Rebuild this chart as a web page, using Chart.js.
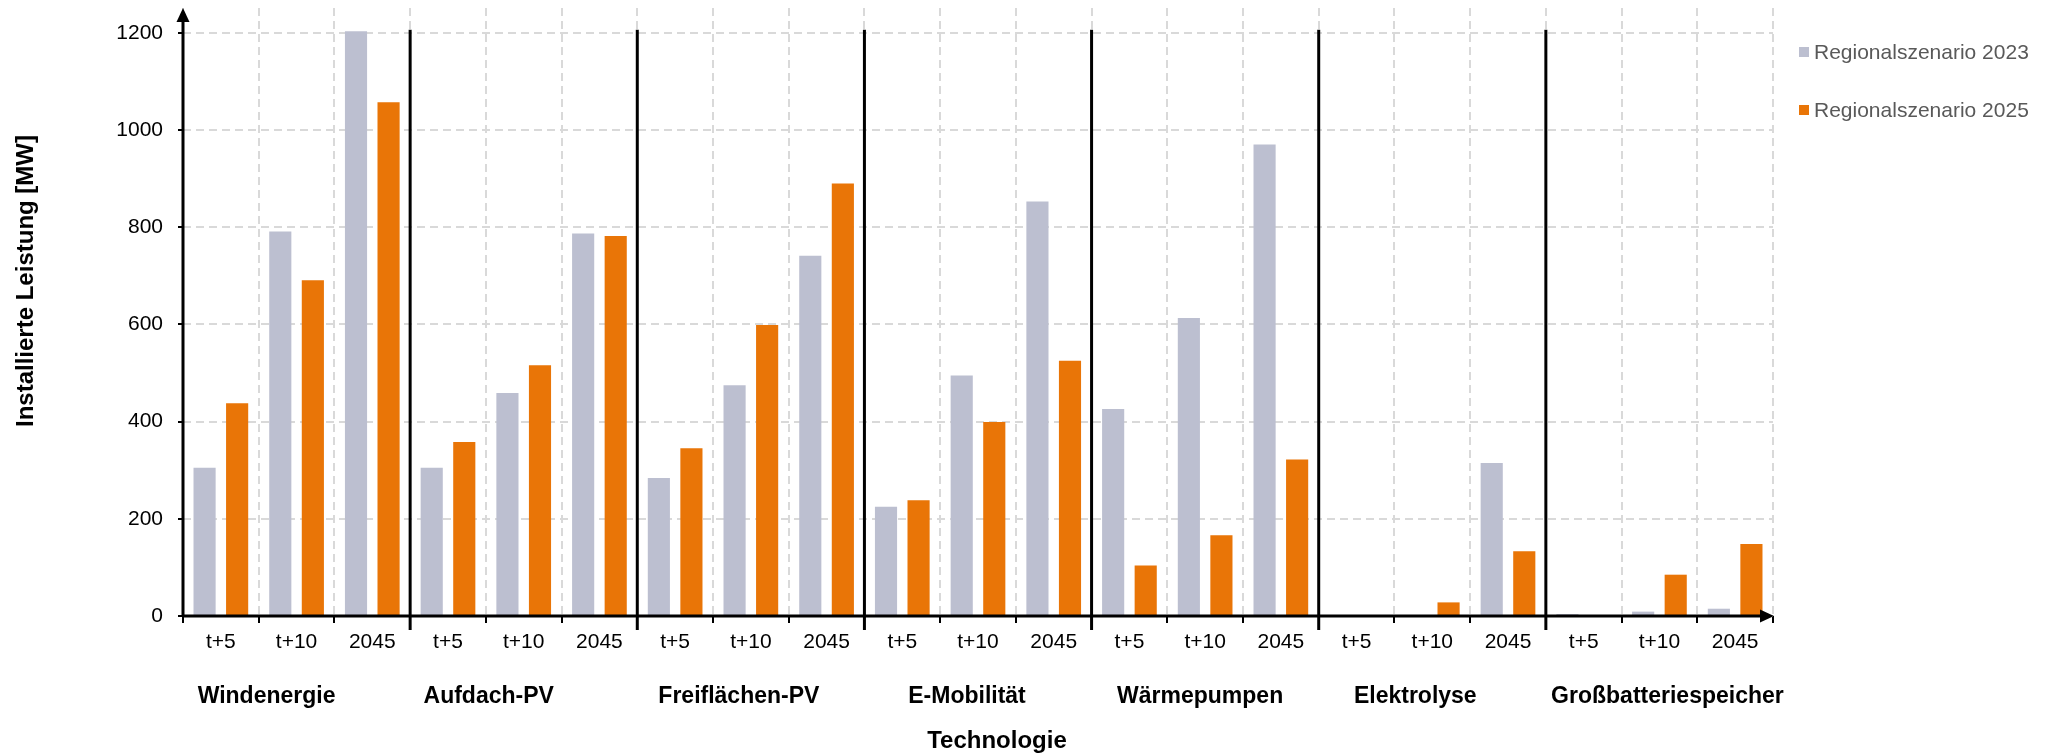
<!DOCTYPE html>
<html>
<head>
<meta charset="utf-8">
<script src="https://cdn.jsdelivr.net/npm/chart.js@4/dist/chart.umd.min.js"></script>
<style>
html,body{margin:0;padding:0;background:#fff;}
#wrap{width:2053px;height:755px;position:relative;}
</style>
</head>
<body>
<div id="wrap"><canvas id="c" width="2053" height="755"></canvas></div>
<script>
// ---- data ----
const groups = ['Windenergie', 'Aufdach-PV', 'Freiflächen-PV', 'E-Mobilität', 'Wärmepumpen', 'Elektrolyse', 'Großbatteriespeicher'];
const horizons = ['t+5', 't+10', '2045'];
const seriesNames = ['Regionalszenario 2023', 'Regionalszenario 2025'];
const values2023 = [305, 791, 1203, 305, 459, 787, 284, 475, 741, 225, 495, 853, 426, 613, 970, 0, 0, 315, 4, 9, 15];
const values2025 = [438, 691, 1057, 358, 516, 782, 345, 599, 890, 238, 399, 525, 104, 166, 322, 0, 28, 133, 0, 85, 148];
const yTicks = [0, 200, 400, 600, 800, 1000, 1200];
const xTitle = 'Technologie';
const yTitle = 'Installierte Leistung [MW]';

// ---- layout / styles ----
const FONT = "'Liberation Sans', Arial, Helvetica, sans-serif";
const colors = ['#bcbfd0', '#e97507'];
const groupLabelNudge = [-30, -35, -12, -11, -5, -17, 8];

const labels = [];
groups.forEach(() => horizons.forEach(h => labels.push(h)));

const decor = {
  id: 'decor',
  afterDraw(chart) {
    const ctx = chart.ctx;
    const xs = chart.scales.x, ys = chart.scales.y;
    const area = chart.chartArea;
    const base = ys.getPixelForValue(0);
    const top1200 = ys.getPixelForValue(yTicks[yTicks.length - 1]);
    const cw = xs.getPixelForValue(1) - xs.getPixelForValue(0);
    ctx.save();
    ctx.strokeStyle = '#000';
    ctx.fillStyle = '#000';
    ctx.lineWidth = 3;
    ctx.setLineDash([]);
    // group separators
    for (let g = 1; g < groups.length; g++) {
      const bx = xs.getPixelForValue(g * horizons.length) - cw / 2;
      ctx.beginPath();
      ctx.moveTo(bx, top1200 - 3);
      ctx.lineTo(bx, base + 14);
      ctx.stroke();
    }
    // y axis with arrow
    ctx.beginPath();
    ctx.moveTo(area.left, base + 1);
    ctx.lineTo(area.left, area.top + 12);
    ctx.stroke();
    ctx.beginPath();
    ctx.moveTo(area.left, area.top);
    ctx.lineTo(area.left - 6.5, area.top + 14);
    ctx.lineTo(area.left + 6.5, area.top + 14);
    ctx.closePath();
    ctx.fill();
    // x axis with arrow
    ctx.beginPath();
    ctx.moveTo(area.left - 1, base);
    ctx.lineTo(area.right - 12, base);
    ctx.stroke();
    ctx.beginPath();
    ctx.moveTo(area.right + 1, base);
    ctx.lineTo(area.right - 13, base - 6.5);
    ctx.lineTo(area.right - 13, base + 6.5);
    ctx.closePath();
    ctx.fill();

    // group labels
    ctx.font = 'bold 23px ' + FONT;
    ctx.textAlign = 'center';
    ctx.textBaseline = 'alphabetic';
    groups.forEach((g, i) => {
      const cx = xs.getPixelForValue(i * horizons.length + 1) + groupLabelNudge[i];
      ctx.fillText(g, cx, 703);
    });
    // axis titles
    ctx.font = 'bold 24px ' + FONT;
    ctx.fillText(xTitle, 997, 748);
    ctx.save();
    ctx.translate(33, 281);
    ctx.rotate(-Math.PI / 2);
    ctx.fillText(yTitle, 0, 0);
    ctx.restore();

    // legend
    ctx.font = '21px ' + FONT;
    ctx.textAlign = 'left';
    seriesNames.forEach((n, i) => {
      const cy = 52 + i * 58;
      ctx.fillStyle = colors[i];
      ctx.fillRect(1799, cy - 5, 10, 10);
      ctx.fillStyle = '#595959';
      ctx.fillText(n, 1814, cy + 7);
    });
    ctx.restore();
  }
};

new Chart(document.getElementById('c'), {
  type: 'bar',
  data: {
    labels: labels,
    datasets: [
      { label: seriesNames[0], data: values2023, backgroundColor: colors[0], categoryPercentage: 0.86, barPercentage: 0.68 },
      { label: seriesNames[1], data: values2025, backgroundColor: colors[1], categoryPercentage: 0.86, barPercentage: 0.68 }
    ]
  },
  options: {
    responsive: false,
    devicePixelRatio: 1,
    animation: false,
    layout: { padding: { left: 0, top: 8, right: 280, bottom: 0 } },
    plugins: { legend: { display: false }, tooltip: { enabled: false }, title: { display: false } },
    scales: {
      x: {
        type: 'category',
        offset: true,
        grid: { offset: true, color: '#d9d9d9', lineWidth: 2, drawTicks: true, tickLength: 7, tickColor: '#000', tickWidth: 2 },
        border: { display: false, dash: [8, 5] },
        ticks: { color: '#000', font: { family: FONT, size: 21 }, padding: 7, maxRotation: 0, autoSkip: false },
        afterFit: s => { s.height = 139; s.paddingLeft = 0; s.paddingRight = 0; }
      },
      y: {
        min: 0,
        max: 1251,
        afterBuildTicks: s => { s.ticks = yTicks.map(v => ({ value: v })); },
        grid: { color: '#d9d9d9', lineWidth: 2, drawTicks: true, tickLength: 5, tickColor: '#000', tickWidth: 2 },
        border: { display: false, dash: [8, 5] },
        ticks: { color: '#000', font: { family: FONT, size: 21 }, padding: 15, callback: v => String(v) },
        afterFit: s => { s.width = 183; s.paddingTop = 0; s.paddingBottom = 0; }
      }
    }
  },
  plugins: [decor]
});
</script>
</body>
</html>
